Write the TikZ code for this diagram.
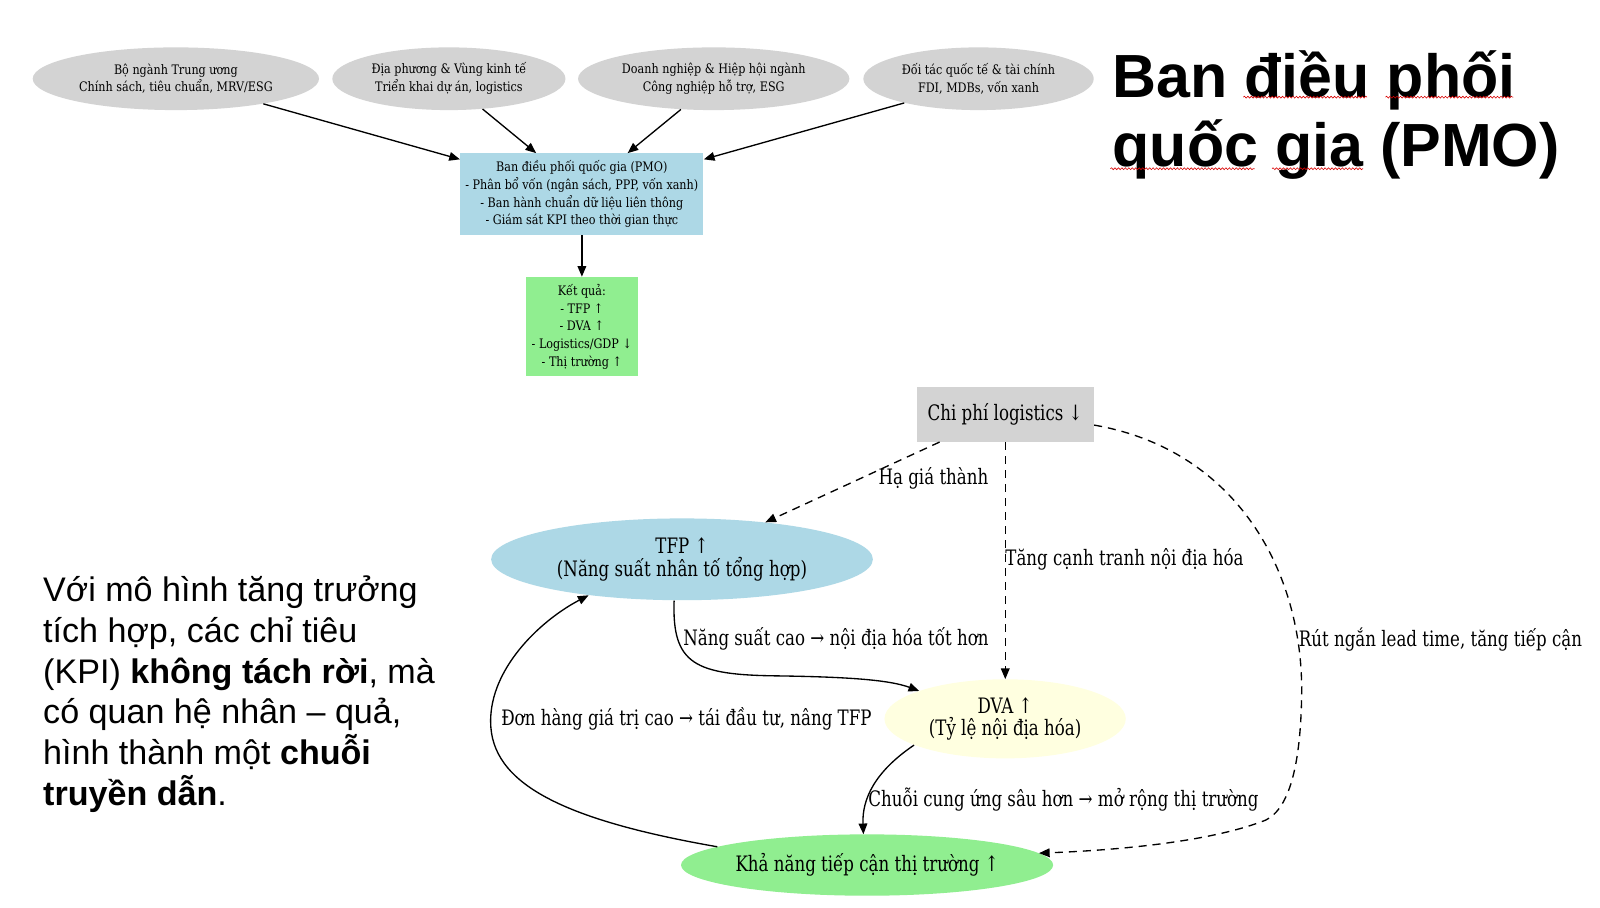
\documentclass[tikz,border=0pt]{standalone}
\usepackage{fontspec}
\setmainfont{Liberation Sans}
\newfontfamily\gvtop[FakeStretch=0.95]{DejaVu Serif Condensed}
\newfontfamily\gvlow[FakeStretch=0.87]{DejaVu Serif Condensed}
\usetikzlibrary{arrows.meta,shapes.geometric,decorations.pathmorphing}
\definecolor{gvgray}{HTML}{D3D3D3}
\definecolor{gvblue}{HTML}{ADD8E6}
\definecolor{gvgreen}{HTML}{90EE90}
\definecolor{gvyellow}{HTML}{FFFFE0}
\tikzset{
  topfont/.style={font=\gvtop\fontsize{9.6}{13}\selectfont},
  lowfont/.style={font=\gvlow\fontsize{15.6}{16.5}\selectfont},
  topell/.style={ellipse, fill=gvgray, inner sep=0pt, align=center, topfont, minimum height=46pt},
  topbox/.style={rectangle, inner sep=0pt, align=center, topfont},
  lowell/.style={ellipse, inner sep=0pt, align=center, lowfont},
  edgelab/.style={anchor=west, inner sep=0pt, lowfont},
  conn/.style={line width=1pt, -{Triangle[length=8pt,width=6.5pt]}},
  dconn/.style={conn, dash pattern=on 6pt off 4.5pt},
  bodytext/.style={anchor=base west, inner sep=0pt, font=\fontsize{25}{30}\selectfont},
  titletext/.style={anchor=base west, inner sep=0pt, font=\bfseries\fontsize{44.7}{51}\selectfont},
  spell/.style={draw=red!85!black, line width=0.45pt, decorate, decoration={snake, segment length=2.6pt, amplitude=0.7pt}}
}
\begin{document}
\begin{tikzpicture}[x=0.75pt,y=-0.75pt,scale=1.0225,every node/.append style={transform shape}]
\useasboundingbox[fill=white] (0,0) rectangle (1564.8,887.1);

% top ellipses
\node[topell, minimum width=210pt] (e1) at (172,77) {Bộ ngành Trung ương\\Chính sách, tiêu chuẩn, MRV/ESG};
\node[topell, minimum width=171pt] (e2) at (439,77) {Địa phương \& Vùng kinh tế\\Triển khai dự án, logistics};
\node[topell, minimum width=199pt] (e3) at (698,77) {Doanh nghiệp \& Hiệp hội ngành\\Công nghiệp hỗ trợ, ESG};
\node[topell, minimum width=169pt] (e4) at (957,77) {Đối tác quốc tế \& tài chính\\FDI, MDBs, vốn xanh};

\node[topbox, fill=gvblue, minimum width=178.5pt, minimum height=60pt] (pmo) at (569,190)
  {Ban điều phối quốc gia (PMO)\\- Phân bổ vốn (ngân sách, PPP, vốn xanh)\\- Ban hành chuẩn dữ liệu liên thông\\- Giám sát KPI theo thời gian thực};
\node[topbox, fill=gvgreen, minimum width=82.5pt, minimum height=73pt] (kq) at (569,319.5)
  {Kết quả:\\- TFP ↑\\- DVA ↑\\- Logistics/GDP ↓\\- Thị trường ↑};

\draw[conn] (e1.-16) -- (pmo.164);
\draw[conn] (e2.-42) -- (pmo.138);
\draw[conn] (e3.223) -- (pmo.42);
\draw[conn] (e4.198) -- (pmo.16);
\draw[conn] (pmo.south) -- (kq.north);

% lower diagram
\node[rectangle, fill=gvgray, lowfont, minimum width=130pt, minimum height=40.5pt, inner sep=0pt] (cp) at (983,405) {Chi phí logistics ↓};
\node[lowell, fill=gvblue, minimum width=280pt, minimum height=60pt] (tfp) at (667,547) {TFP ↑\\(Năng suất nhân tố tổng hợp)};
\node[lowell, fill=gvyellow, minimum width=177pt, minimum height=58pt] (dva) at (983,703) {DVA ↑\\(Tỷ lệ nội địa hóa)};
\node[lowell, fill=gvgreen, minimum width=270pt, minimum height=45pt] (kn) at (848,846) {Khả năng tiếp cận thị trường ↑};

\draw[dconn] (cp.203.5) -- (tfp.24.7);
\draw[dconn] (cp.south) -- (dva.north);
\draw[dconn] (cp.-7) .. controls (1210,440) and (1275,560) .. (1273,680)
  .. controls (1272,745) and (1262,790) .. (1238,802)
  .. controls (1180,825) and (1080,832) .. (kn.4);
\draw[conn] (tfp.259) .. controls (657,650) and (680,660) .. (760,661)
  .. controls (830,662) and (870,665) .. (dva.162);
\draw[conn] (dva.196) .. controls (855,755) and (843,782) .. (kn.97);
\draw[conn] (kn.173) .. controls (540,800) and (476,762) .. (480,700)
  .. controls (483,650) and (530,606) .. (tfp.201);

\node[edgelab] (l1) at (859,468) {Hạ giá thành};
\node[edgelab] (l2) at (983,547) {Tăng cạnh tranh nội địa hóa};
\node[edgelab] (l3) at (1270,625) {Rút ngắn lead time, tăng tiếp cận};
\node[edgelab] (l4) at (668,625) {Năng suất cao → nội địa hóa tốt hơn};
\node[edgelab] (l5) at (490,703) {Đơn hàng giá trị cao → tái đầu tư, nâng TFP};
\node[edgelab] (l6) at (849,782) {Chuỗi cung ứng sâu hơn → mở rộng thị trường};

% title
\node[titletext] (t1) at (1088,95) {Ban điều phối};
\node[titletext] (t2) at (1088,163) {quốc gia (PMO)};
\path[spell] (1216,95) -- (1337,95);
\path[spell] (1355,95) -- (1480,95);
\path[spell] (1086,165) -- (1227,165);
\path[spell] (1244,165) -- (1333,165);

% body text
\node[bodytext] (b1) at (42,588) {Với mô hình tăng trưởng};
\node[bodytext] (b2) at (42,628) {tích hợp, các chỉ tiêu};
\node[bodytext] (b3) at (42,668) {(KPI) \textbf{không tách rời}, mà};
\node[bodytext] (b4) at (42,708) {có quan hệ nhân – quả,};
\node[bodytext] (b5) at (42,748) {hình thành một \textbf{chuỗi}};
\node[bodytext] (b6) at (42,788) {\textbf{truyền dẫn}.};
\end{tikzpicture}
\end{document}
